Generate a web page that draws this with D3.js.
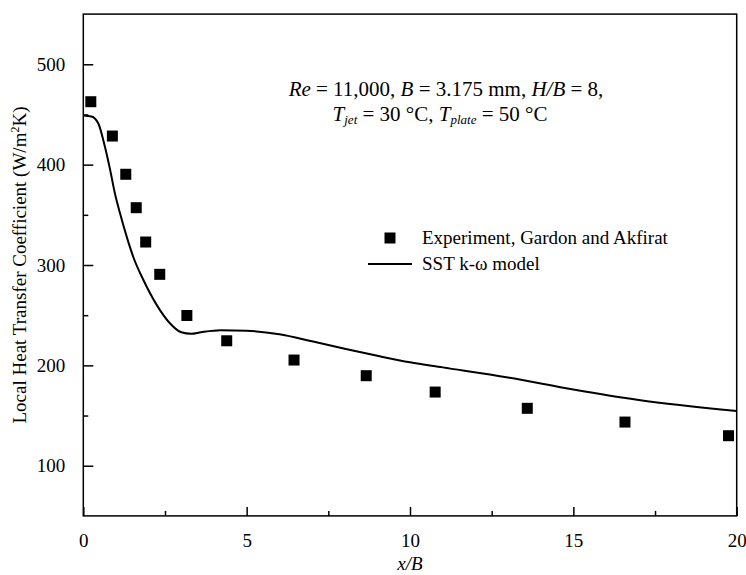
<!DOCTYPE html>
<html>
<head>
<meta charset="utf-8">
<script src="https://cdn.jsdelivr.net/npm/d3@7"></script>
<style>
  body { margin: 0; background: #fff; }
</style>
</head>
<body>
<div id="canvas"></div>
<script>
"use strict"

let svgWidth = 746;
let svgHeight = 575;
let plotLeft = 83.3, plotRight = 736.7, plotTop = 14.1, plotBottom = 515.9;
let serif = "Liberation Serif, Times New Roman, Tinos, DejaVu Serif, serif";

/* Experiment, Gardon and Akfirat */
let expX = [0.23, 0.89, 1.30, 1.62, 1.91, 2.34, 3.17, 4.39, 6.45, 8.66, 10.77, 13.59, 16.58, 19.75];
let expY = [462.7, 428.5, 390.4, 357.1, 322.9, 290.7, 249.7, 224.5, 205.3, 189.7, 173.4, 157.2, 143.5, 129.9];

/* SST k-omega model */
let sstX = [0, 0.25, 0.46, 0.66, 0.82, 0.97, 1.12, 1.33, 1.53, 1.84, 2.25, 2.65, 3.0, 3.3, 3.6, 4.2, 5.0, 6.0, 7.0, 8.0, 9.0, 10.0, 11.0, 13.0, 15.0, 17.0, 20.0];
let sstY = [449, 448, 441, 418, 395, 371, 352, 328, 308, 285, 260, 242, 233, 231.5, 233, 235, 234.5, 231, 224, 216.5, 209.5, 203, 198, 188, 176, 165.5, 154.5];

let xTicks = [0, 5, 10, 15, 20];
let yTicks = [100, 200, 300, 400, 500];

let expData = expX.map((x, i) => ({x: x, y: expY[i]}));
let sstData = sstX.map((x, i) => ({x: x, y: sstY[i]}));

let svg = d3.select("#canvas")
    .append("svg")
    .attr("width", svgWidth)
    .attr("height", svgHeight)
    .attr("font-family", serif);

let xScale = d3.scaleLinear().domain([0, 20]).range([plotLeft, plotRight]);
let yScale = d3.scaleLinear().domain([50, 550]).range([plotBottom, plotTop]);

/* frame */
svg.append("rect")
   .attr("x", plotLeft)
   .attr("y", plotTop)
   .attr("width", plotRight - plotLeft)
   .attr("height", plotBottom - plotTop)
   .attr("fill", "none")
   .attr("stroke", "black")
   .attr("stroke-width", 1.5);

/* axes, ticks inward */
let xAxis = d3.axisBottom(xScale).tickValues(xTicks).tickSize(-9).tickPadding(18).tickFormat(d3.format("d"));
let gx = svg.append("g").attr("transform", `translate(0,${plotBottom})`).call(xAxis);
gx.select(".domain").remove();

let xMinor = d3.axisBottom(xScale).tickValues([2.5, 7.5, 12.5, 17.5]).tickSize(-5).tickFormat("");
let gxm = svg.append("g").attr("transform", `translate(0,${plotBottom})`).call(xMinor);
gxm.select(".domain").remove();

let yAxis = d3.axisLeft(yScale).tickValues(yTicks).tickSize(-10).tickPadding(18);
let gy = svg.append("g").attr("transform", `translate(${plotLeft},0)`).call(yAxis);
gy.select(".domain").remove();

let yMinor = d3.axisLeft(yScale).tickValues([150, 250, 350, 450]).tickSize(-5).tickFormat("");
let gym = svg.append("g").attr("transform", `translate(${plotLeft},0)`).call(yMinor);
gym.select(".domain").remove();

[gx, gxm, gy, gym].forEach(g => g.attr("font-family", serif).attr("font-size", 19));
svg.selectAll(".tick line").attr("stroke", "black").attr("stroke-width", 1.5);

/* model line */
let line = d3.line()
    .x(d => xScale(d.x))
    .y(d => yScale(d.y))
    .curve(d3.curveMonotoneX);

svg.append("path")
   .datum(sstData)
   .attr("d", line)
   .attr("fill", "none")
   .attr("stroke", "black")
   .attr("stroke-width", 2);

/* experiment squares */
let sq = 11;
svg.selectAll("rect.dataPoint")
   .data(expData)
   .join("rect")
   .attr("class", "dataPoint")
   .attr("x", d => xScale(d.x) - sq / 2)
   .attr("y", d => yScale(d.y) - sq / 2)
   .attr("width", sq)
   .attr("height", sq)
   .attr("fill", "black");

/* axis titles */
svg.append("text")
   .attr("x", (plotLeft + plotRight) / 2)
   .attr("y", 570)
   .attr("text-anchor", "middle")
   .attr("font-size", 19)
   .attr("font-style", "italic")
   .text("x/B");

let yl = svg.append("text")
   .attr("transform", "rotate(-90)")
   .attr("x", -(plotTop + plotBottom) / 2)
   .attr("y", 26)
   .attr("text-anchor", "middle")
   .attr("font-size", 19);
yl.append("tspan").text("Local Heat Transfer Coefficient (W/m");
yl.append("tspan").attr("dy", -7).attr("font-size", 12).text("2");
yl.append("tspan").attr("dy", 7).text("K)");

/* annotation */
let a1 = svg.append("text")
   .attr("x", 446)
   .attr("y", 96)
   .attr("text-anchor", "middle")
   .attr("font-size", 21);
a1.append("tspan").attr("font-style", "italic").text("Re");
a1.append("tspan").text(" = 11,000, ");
a1.append("tspan").attr("font-style", "italic").text("B");
a1.append("tspan").text(" = 3.175 mm, ");
a1.append("tspan").attr("font-style", "italic").text("H/B");
a1.append("tspan").text(" = 8,");

let a2 = svg.append("text")
   .attr("x", 440)
   .attr("y", 121)
   .attr("text-anchor", "middle")
   .attr("font-size", 21);
a2.append("tspan").attr("font-style", "italic").text("T");
a2.append("tspan").attr("font-style", "italic").attr("font-size", 13).attr("dy", 3).text("jet");
a2.append("tspan").attr("dy", -3).text(" = 30 °C, ");
a2.append("tspan").attr("font-style", "italic").text("T");
a2.append("tspan").attr("font-style", "italic").attr("font-size", 13).attr("dy", 3).text("plate");
a2.append("tspan").attr("dy", -3).text(" = 50 °C");

/* legend */
svg.append("rect")
   .attr("x", 390 - sq / 2)
   .attr("y", 238 - sq / 2)
   .attr("width", sq)
   .attr("height", sq)
   .attr("fill", "black");
svg.append("text")
   .attr("x", 422)
   .attr("y", 244)
   .attr("font-size", 19)
   .text("Experiment, Gardon and Akfirat");

svg.append("line")
   .attr("x1", 368)
   .attr("x2", 412)
   .attr("y1", 264)
   .attr("y2", 264)
   .attr("stroke", "black")
   .attr("stroke-width", 2);
svg.append("text")
   .attr("x", 422)
   .attr("y", 270)
   .attr("font-size", 19)
   .text("SST k-ω model");
</script>
</body>
</html>
